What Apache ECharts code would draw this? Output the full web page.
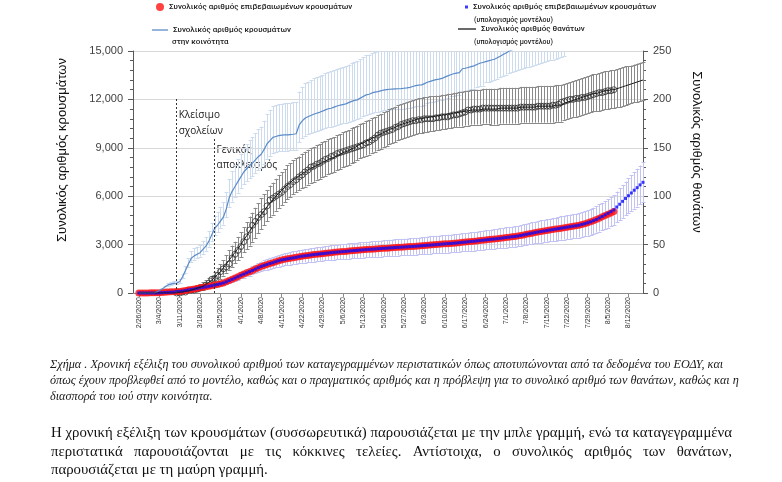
<!DOCTYPE html>
<html><head><meta charset="utf-8">
<script src="https://cdn.jsdelivr.net/npm/echarts@6/dist/echarts.min.js"></script>
<style>html,body{margin:0;padding:0;background:#fff}#c{width:782px;height:482px}</style>
</head><body><div id="c"></div>
<script>
// ---------------- DATA (index 0 = 2/26/2020) ----------------
const AXIS_START = [2020, 1, 24];   // x axis runs 2/24/2020 .. 8/17/2020
const AXIS_DAYS = 176;
const DATA_OFFSET = 2;              // series begin on 2/26/2020
const LABEL_FIRST = 2;              // first tick label 2/26/2020, then weekly
const LABEL_STEP = 7;

const casesObserved = [
0,0,0,0,10,10,10,
20,30,40,60,70,80,90,
100,120,150,190,220,250,285,
320,350,380,415,450,490,530,
575,620,690,770,850,930,1010,
1100,1170,1250,1320,1400,1480,1570,
1650,1710,1770,1830,1880,1940,2000,
2050,2085,2120,2150,2180,2210,2250,
2280,2305,2330,2355,2380,2400,2420,
2440,2460,2480,2500,2520,2535,2550,
2565,2580,2600,2615,2630,2645,2660,
2675,2690,2705,2715,2730,2745,2755,
2770,2780,2795,2805,2820,2830,2840,
2850,2860,2875,2885,2900,2915,2930,
2945,2960,2970,2985,3000,3015,3030,
3045,3060,3070,3085,3100,3120,3140,
3155,3175,3195,3210,3230,3250,3270,
3290,3310,3330,3350,3370,3390,3415,
3440,3460,3485,3505,3530,3565,3600,
3640,3675,3710,3745,3780,3810,3840,
3870,3900,3930,3960,3990,4020,4050,
4080,4110,4140,4170,4200,4250,4300,
4350,4410,4480,4560,4640,4720,4800,
4880,4960,5050];

const casesModel = [
0,0,0,0,0,0,0,
10,20,30,40,50,60,90,
100,120,150,190,220,250,285,
320,350,380,415,450,490,530,
575,620,690,770,850,930,1010,
1100,1170,1250,1320,1400,1480,1570,
1650,1710,1770,1830,1880,1940,2000,
2050,2085,2120,2150,2180,2210,2250,
2280,2305,2330,2355,2380,2400,2420,
2440,2460,2480,2500,2520,2535,2550,
2565,2580,2600,2615,2630,2645,2660,
2675,2690,2705,2715,2730,2745,2755,
2770,2780,2795,2805,2820,2830,2840,
2850,2860,2875,2885,2900,2915,2930,
2945,2960,2970,2985,3000,3015,3030,
3045,3060,3070,3085,3100,3120,3140,
3155,3175,3195,3210,3230,3250,3270,
3290,3310,3330,3350,3370,3390,3415,
3440,3460,3485,3505,3530,3565,3600,
3640,3675,3710,3745,3780,3810,3840,
3870,3900,3930,3960,3990,4020,4050,
4080,4110,4140,4170,4200,4250,4300,
4350,4410,4480,4560,4650,4740,4840,
4940,5040,5150,5330,5500,5680,5860,
6030,6200,6370,6530,6700,6860];

const casesModelErr = [
0,0,0,0,0,0,0,0,0,0,0,0,0,
20,20,20,30,30,40,40,50,
60,60,70,80,80,90,100,100,110,120,
140,150,170,180,200,210,220,240,250,270,
280,300,310,320,330,340,350,360,370,375,
380,390,395,400,405,410,415,420,425,430,
430,435,440,440,445,450,455,455,460,460,
465,470,470,475,475,480,480,485,485,490,
490,495,495,500,500,505,505,510,510,510,
515,515,520,520,520,525,525,530,530,535,
535,540,545,545,550,550,555,555,560,560,
565,570,570,575,580,580,585,590,590,595,
600,605,605,610,615,620,620,625,630,635,
640,650,655,660,670,675,680,685,690,695,
700,710,715,720,725,735,740,745,750,755,
760,770,780,790,800,810,820,840,850,870,
890,910,930,960,990,1020,1050,1080,1110,1140,1170,1200,1230];

const casesCommunity = [
0,0,0,0,0,0,50,
150,250,380,500,550,600,620,
700,1000,1400,1800,2150,2300,2400,
2500,2700,2900,3200,3600,4000,4200,
4450,4700,5200,5900,6300,6600,6900,
7200,7500,7700,7900,8050,8250,8450,
8600,8900,9250,9450,9650,9700,9750,
9780,9800,9800,9820,9840,9870,10400,
10650,10830,10920,11000,11080,11140,11200,
11270,11350,11420,11450,11520,11590,11640,
11680,11720,11800,11880,11940,11970,12080,
12180,12280,12320,12400,12450,12480,12530,
12580,12610,12630,12640,12650,12660,12670,
12690,12710,12750,12800,12850,12880,12900,
12980,13060,13120,13180,13230,13260,13300,
13380,13460,13530,13590,13630,13660,13900,
13930,13980,14030,14080,14160,14240,14290,
14340,14390,14440,14490,14580,14680,14780,
14880,14980,15060,15120,15180,15240,15300,
15360,15420,15480,15540,15600,15660,15720,
15780,15840,15900,15960,16020,16080,16140];

const casesCommunityErrUp = [
0,0,0,0,0,0,10,
30,50,80,100,110,120,120,
140,200,280,360,430,460,480,
500,540,580,640,720,800,840,
890,940,1040,1180,1260,1320,1380,
1440,1500,1540,1580,1610,1650,1690,
1720,1780,1850,1890,1930,1940,1950,
1960,1960,1960,1960,1970,1970,2080,
2130,2170,2180,2200,2220,2230,2240,
2250,2270,2280,2290,2300,2320,2330,
2340,2340,2360,2380,2390,2390,2420,
2440,2460,2460,2480,2490,2500,2510,
2520,2520,2530,2530,2530,2530,2530,
2540,2540,2550,2560,2570,2580,2580,
2600,2610,2620,2640,2650,2650,2660,
2680,2690,2710,2720,2730,2730,2780,
2790,2800,2810,2820,2830,2850,2860,
2870,2880,2890,2900,2920,2940,2960,
2980,3000,3010,3020,3040,3050,3060,
3070,3080,3100,3110,3120,3130,3140,
3160,3170,3180,3190,3200,3220,3230];

const casesCommunityErrDown = [
0,0,0,0,0,0,5,
15,25,40,50,55,60,60,
70,100,140,180,215,230,240,
250,270,290,320,360,400,420,
445,470,520,590,630,660,690,
720,750,770,790,805,825,845,
860,890,925,945,965,970,975,
980,980,980,980,985,990,1040,
1065,1080,1090,1100,1110,1115,1120,
1125,1135,1140,1145,1150,1160,1165,
1170,1170,1180,1190,1195,1200,1210,
1220,1230,1230,1240,1245,1250,1250,
1260,1260,1260,1260,1260,1265,1265,
1270,1270,1275,1280,1285,1290,1290,
1300,1305,1310,1315,1320,1325,1330,
1340,1345,1350,1360,1360,1365,1390,
1390,1395,1400,1410,1415,1420,1430,
1290,1295,1300,1305,1310,1320,1330,
1340,1350,1355,1360,1365,1370,1380,
1380,1390,1395,1400,1405,1410,1415,
1420,1425,1430,1435,1440,1450,1455];

const deathsObserved = [
null,null,null,null,null,null,null,
null,null,null,null,null,null,0,
0,1,1,3,3,3,4,
5,6,8,10,14,15,18,
22,25,27,30,36,40,44,
48,53,58,65,70,74,78,
81,84,90,96,98,100,102,
104,107,110,112,115,117,120,
122,125,127,130,131,133,134,
136,138,139,141,142,144,145,
146,147,148,149,150,151,152,
153,155,156,158,160,163,165,
166,167,168,169,171,172,174,
175,176,177,178,178,179,179,
180,180,180,180,181,181,182,
182,182,183,184,184,185,186,
187,189,189,190,190,190,191,
191,191,191,191,191,191,191,
191,191,191,191,191,192,192,
192,192,192,192,193,193,193,
193,193,194,194,195,197,198,
199,200,200,201,201,202,202,
203,204,205,206,207,207,208,
209,209,210];

const deathsModel = [
0,0,0,0,0,0,0,
0,0,0,0,0,0,0,
1,1,2,2,3,4,5,
6,7,9,11,13,16,19,
22,26,30,34,38,42,46,
50,55,59,64,68,72,77,
81,85,89,93,96,100,103,
106,109,112,114,117,119,121,
123,125,127,129,130,132,133,
135,136,138,139,140,142,143,
145,146,147,149,150,152,154,
155,157,158,160,161,163,164,
166,167,169,170,171,173,174,
175,176,177,178,179,180,180,
181,181,182,182,183,183,184,
184,185,185,186,186,187,187,
188,188,189,189,189,189,190,
190,190,190,190,190,191,191,
191,191,191,191,191,192,192,
192,192,192,192,193,193,193,
193,193,193,194,194,194,196,
197,198,199,200,201,202,203,
204,205,206,206,207,208,209,
209,210,210,211,212,213,214,
215,216,217,218,219,220];

const deathsModelErrUp = [
0,0,0,0,0,0,0,
0,0,0,0,0,0,0,
1,1,1,2,2,2,3,
3,4,4,5,5,6,7,
8,8,9,10,11,11,12,
13,13,14,15,15,16,16,
17,17,17,18,18,18,19,
19,19,20,20,20,20,20,
21,21,21,21,21,21,21,
21,21,21,21,21,21,21,
21,21,21,21,21,21,21,
21,21,21,21,21,21,21,
21,21,21,21,21,21,21,
21,21,21,21,21,21,21,
21,21,21,21,21,21,21,
21,21,21,21,21,21,21,
21,21,21,21,21,21,21,
21,21,21,21,21,21,21,
21,21,21,21,21,21,21,
21,21,21,21,21,21,21,
21,21,21,21,21,21,20,
20,20,20,20,20,20,20,
20,20,20,20,20,20,20,
20,20,20,20,20,20,20,
19,19,19,19,19,19];

const deathsModelErrDown = [
0,0,0,0,0,0,0,
0,0,0,0,0,0,0,
1,1,1,2,2,2,3,
3,4,4,5,5,6,7,
8,8,9,10,11,11,12,
13,13,14,15,15,15,15,
15,15,15,15,15,15,15,
15,15,15,15,15,15,15,
15,15,15,15,15,15,15,
15,15,15,15,15,15,15,
15,15,15,15,15,15,15,
15,15,15,15,15,15,15,
15,15,15,15,15,15,15,
15,15,15,15,15,15,15,
15,15,15,15,15,15,15,
15,15,15,15,15,15,15,
15,15,15,15,15,15,15,
15,15,16,16,16,16,16,
16,16,16,16,16,16,16,
16,16,16,16,17,17,17,
17,17,17,17,17,17,17,
17,17,17,18,18,18,18,
18,18,18,18,19,19,19,
19,19,19,19,20,20,20,
20,20,20,21,21,21];

const leftTicks = {min: 0, max: 15000, interval: 3000};
const rightTicks = {min: 0, max: 250, interval: 50};

const marks = [
  {date: '3/10/2020', top: 12100, lines: ['Κλείσιμο', 'σχολείων']},
  {date: '3/23/2020', top: 9550, lines: ['Γενικός', 'αποκλεισμός']}
];
const markLabelOffsets = [[2, 17, 16], [2, 11, 15]]; // dx, first-line dy, line step (layout)

const S_RED = 'Συνολικός αριθμός επιβεβαιωμένων κρουσμάτων';
const S_BLUE = 'Συνολικός αριθμός επιβεβαιωμένων κρουσμάτων (υπολογισμός μοντέλου)';
const S_COMM = 'Συνολικός αριθμός κρουσμάτων στην κοινότητα';
const S_DEATH = 'Συνολικός αριθμός θανάτων (υπολογισμός μοντέλου)';
const S_DOBS = 'Συνολικός αριθμός θανάτων';

const captionLines = [
 'Σχήμα . Χρονική εξέλιξη του συνολικού αριθμού των καταγεγραμμένων περιστατικών όπως αποτυπώνονται από τα δεδομένα του ΕΟΔΥ, και',
 'όπως έχουν προβλεφθεί από το μοντέλο, καθώς και ο πραγματικός αριθμός και η πρόβλεψη για το συνολικό αριθμό των θανάτων, καθώς και η',
 'διασπορά του ιού στην κοινότητα.'
];
const paragraphLines = [
 'Η χρονική εξέλιξη των κρουσμάτων (συσσωρευτικά) παρουσιάζεται με την μπλε γραμμή, ενώ τα καταγεγραμμένα',
 'περιστατικά παρουσιάζονται με τις κόκκινες τελείες. Αντίστοιχα, ο συνολικός αριθμός των θανάτων,',
 'παρουσιάζεται με τη μαύρη γραμμή.'
];

// ---------------- BUILD ----------------
const categories = [];
for (let i = 0; i < AXIS_DAYS; i++) {
  const d = new Date(Date.UTC(AXIS_START[0], AXIS_START[1], AXIS_START[2] + i));
  categories.push((d.getUTCMonth() + 1) + '/' + d.getUTCDate() + '/' + d.getUTCFullYear());
}
const pairs = arr => arr.map((v, i) => [i + DATA_OFFSET, v]).filter(p => p[1] !== null);
const bars = (vals, up, down) => vals.map((v, i) => [i + DATA_OFFSET, v - down[i], v + up[i]]);
const casesModelBars = casesModel.map((v, i) => [i + DATA_OFFSET, v - casesModelErr[i], v + casesModelErr[i]]);

function errRender(color, cap) {
  return function (params, api) {
    const i = api.value(0), lo = api.value(1), hi = api.value(2);
    const a = api.coord([i, hi]), b = api.coord([i, lo]);
    const cs = params.coordSys;
    const ymin = cs.y, ymax = cs.y + cs.height;
    let top = a[1], bot = b[1];
    if (bot < ymin || hi - lo <= 0) return {type: 'group', children: []};
    const x = Math.round(a[0]) + 0.5;
    const ch = [];
    const capTop = top >= ymin;
    top = Math.max(top, ymin);
    bot = Math.min(bot, ymax);
    const st = {stroke: color, lineWidth: 1};
    ch.push({type: 'line', shape: {x1: x, y1: top, x2: x, y2: bot}, style: st});
    if (capTop) ch.push({type: 'line', shape: {x1: x - cap, y1: Math.round(top) + 0.5, x2: x + cap, y2: Math.round(top) + 0.5}, style: st});
    ch.push({type: 'line', shape: {x1: x - cap, y1: Math.round(bot) + 0.5, x2: x + cap, y2: Math.round(bot) + 0.5}, style: st});
    return {type: 'group', children: ch, silent: true};
  };
}

const labelShown = idx => idx >= LABEL_FIRST && (idx - LABEL_FIRST) % LABEL_STEP === 0;
const legendFont = {fontFamily: 'Roboto', fontSize: 8, fontWeight: 500, color: '#222'};
const thousands = v => String(v).replace(/\B(?=(\d{3})+(?!\d))/g, ',');

// text layout helpers
const mctx = document.createElement('canvas').getContext('2d');
function measure(t, font) { mctx.font = font; return mctx.measureText(t).width; }
const graphics = [];
function addText(x, y, text, font, fill, extra) {
  graphics.push(Object.assign({type: 'text', x: x, y: y, silent: true,
    style: {text: text, font: font, fill: fill, textVerticalAlign: 'middle'}}, extra || {}));
}
// caption (italic serif)
const capFam = '"Liberation Serif", "DejaVu Serif", serif';
const capSize = 12 * 674 / measure(captionLines[0], 'italic 12px ' + capFam);
const capFont = 'italic ' + capSize.toFixed(2) + 'px ' + capFam;
[365, 381, 397].forEach((y, k) => addText(50, y, captionLines[k], capFont, '#1a1a1a'));
// paragraph (justified serif)
const parSize = 14 * 681 / measure(paragraphLines[0], '14px ' + capFam);
const parFont = parSize.toFixed(2) + 'px ' + capFam;
function justify(line, x0, width, y) {
  const words = line.split(' ');
  const ws = words.map(w => measure(w, parFont));
  const gap = (width - ws.reduce((a, b) => a + b, 0)) / (words.length - 1);
  let x = x0;
  words.forEach((w, i) => { addText(x, y, w, parFont, '#111'); x += ws[i] + gap; });
}
justify(paragraphLines[0], 51, 681, 433);
justify(paragraphLines[1], 51, 681, 452);
addText(51, 470, paragraphLines[2], parFont, '#111');

// axis titles
graphics.push({type: 'text', x: 62, y: 150, rotation: Math.PI / 2, silent: true,
  style: {text: 'Συνολικός αριθμός κρουσμάτων', font: '13px "Liberation Sans", Arial, sans-serif', fill: '#111', textAlign: 'center', textVerticalAlign: 'middle'}});
graphics.push({type: 'text', x: 697, y: 152, rotation: -Math.PI / 2, silent: true,
  style: {text: 'Συνολικός αριθμός θανάτων', font: '13px "Liberation Sans", Arial, sans-serif', fill: '#111', textAlign: 'center', textVerticalAlign: 'middle'}});
// legend second lines
const subFont = '500 7px Roboto, sans-serif';
addText(172, 42, 'στην κοινότητα', '500 8px Roboto, sans-serif', '#222');
addText(474, 20, '(υπολογισμός μοντέλου)', subFont, '#222');
addText(474, 42, '(υπολογισμός μοντέλου)', subFont, '#222');

const chart = echarts.init(document.getElementById('c'), null, {renderer: 'canvas'});
const option = {
  animation: false,
  backgroundColor: '#fff',
  grid: {left: 133, right: 139, top: 51, bottom: 189, containLabel: false},
  legend: [
    {left: 156, top: 3, padding: 0, data: [{name: S_RED, icon: 'circle'}], itemWidth: 8, itemHeight: 8, selectedMode: false,
     textStyle: legendFont},
    {left: 152, top: 26, padding: 0, data: [{name: S_COMM, icon: 'rect'}], itemWidth: 16, itemHeight: 1.3, selectedMode: false,
     formatter: () => 'Συνολικός αριθμός κρουσμάτων', textStyle: legendFont},
    {left: 465, top: 3, padding: 0, data: [{name: S_BLUE, icon: 'rect'}], itemWidth: 3, itemHeight: 3, selectedMode: false,
     formatter: () => 'Συνολικός αριθμός επιβεβαιωμένων κρουσμάτων', textStyle: legendFont},
    {left: 458, top: 25, padding: 0, data: [{name: S_DEATH, icon: 'rect'}], itemWidth: 18, itemHeight: 1.3, selectedMode: false,
     formatter: () => 'Συνολικός αριθμός θανάτων', textStyle: legendFont}
  ],
  xAxis: {
    type: 'category', data: categories, boundaryGap: false,
    axisLine: {lineStyle: {color: '#8c8c8c'}},
    axisTick: {show: true, interval: labelShown, length: 4, lineStyle: {color: '#8c8c8c'}},
    axisLabel: {interval: labelShown, rotate: 90, fontSize: 7, color: '#333', margin: 4,
      fontFamily: '"Liberation Sans", Arial, sans-serif'},
    splitLine: {show: false}
  },
  yAxis: [
    {type: 'value', position: 'left', min: leftTicks.min, max: leftTicks.max, interval: leftTicks.interval,
     axisLine: {show: true, lineStyle: {color: '#595959'}},
     axisTick: {show: true, length: 5, lineStyle: {color: '#595959'}},
     minorTick: {show: true, splitNumber: 5, length: 3, lineStyle: {color: '#595959'}},
     splitLine: {show: true, lineStyle: {color: '#d9d9d9'}},
     axisLabel: {formatter: thousands, fontSize: 11, color: '#404040', margin: 10,
       fontFamily: '"Liberation Sans", Arial, sans-serif'}},
    {type: 'value', position: 'right', min: rightTicks.min, max: rightTicks.max, interval: rightTicks.interval,
     axisLine: {show: true, lineStyle: {color: '#595959'}},
     axisTick: {show: true, length: 5, lineStyle: {color: '#595959'}},
     minorTick: {show: true, splitNumber: 5, length: 3, lineStyle: {color: '#595959'}},
     splitLine: {show: false},
     axisLabel: {fontSize: 11, color: '#404040', margin: 10,
       fontFamily: '"Liberation Sans", Arial, sans-serif'}}
  ],
  series: [
    {name: 'commErr', type: 'custom', yAxisIndex: 0, renderItem: errRender('#cddbef', 2),
     encode: {x: 0, y: [1, 2]}, data: bars(casesCommunity, casesCommunityErrUp, casesCommunityErrDown), silent: true},
    {name: S_COMM, type: 'line', yAxisIndex: 0, symbol: 'none', data: pairs(casesCommunity),
     lineStyle: {color: '#5b8bc8', width: 1.2}, itemStyle: {color: '#5b8bc8'}, clip: true, silent: true},
    {name: 'deathErr', type: 'custom', yAxisIndex: 1, renderItem: errRender('#8a8a8a', 2),
     encode: {x: 0, y: [1, 2]}, data: bars(deathsModel, deathsModelErrUp, deathsModelErrDown), silent: true},
    {name: S_DEATH, type: 'line', yAxisIndex: 1, symbol: 'none', data: pairs(deathsModel),
     lineStyle: {color: '#1a1a1a', width: 1}, itemStyle: {color: '#1a1a1a'}, silent: true},
    {name: S_DOBS, type: 'scatter', yAxisIndex: 1, symbol: 'circle', symbolSize: 6, data: pairs(deathsObserved),
     itemStyle: {color: 'rgba(255,255,255,0)', borderColor: '#333', borderWidth: 1}, silent: true},
    {name: 'caseErr', type: 'custom', yAxisIndex: 0, renderItem: errRender('#c3c3f3', 2),
     encode: {x: 0, y: [1, 2]}, data: casesModelBars, silent: true},
    {name: S_RED, type: 'scatter', yAxisIndex: 0, symbol: 'circle', symbolSize: 7, data: pairs(casesObserved),
     itemStyle: {color: '#ff1414'}, silent: true,
     markLine: {silent: true, symbol: 'none', label: {show: false},
       lineStyle: {type: [2, 2], color: '#333', width: 1},
       data: marks.map(m => [{coord: [m.date, 0]}, {coord: [m.date, m.top]}])}},
    {name: S_BLUE, type: 'scatter', yAxisIndex: 0, symbol: 'rect', symbolSize: 3, data: pairs(casesModel),
     itemStyle: {color: '#0a0aff'}, silent: true}
  ],
  graphic: graphics
};
chart.setOption(option);

// annotation labels next to the dashed lines (positioned through the axes)
const annFont = '10px "Open Sans", sans-serif';
const extra = [];
marks.forEach((m, j) => {
  const p = chart.convertToPixel({xAxisIndex: 0, yAxisIndex: 0}, [m.date, m.top]);
  const o = markLabelOffsets[j];
  m.lines.forEach((t, k) => extra.push({type: 'text', x: p[0] + o[0], y: p[1] + o[1] + k * o[2], silent: true,
    style: {text: t, font: annFont, fill: '#222', textVerticalAlign: 'middle'}}));
});
chart.setOption({graphic: graphics.concat(extra)});
</script></body></html>
